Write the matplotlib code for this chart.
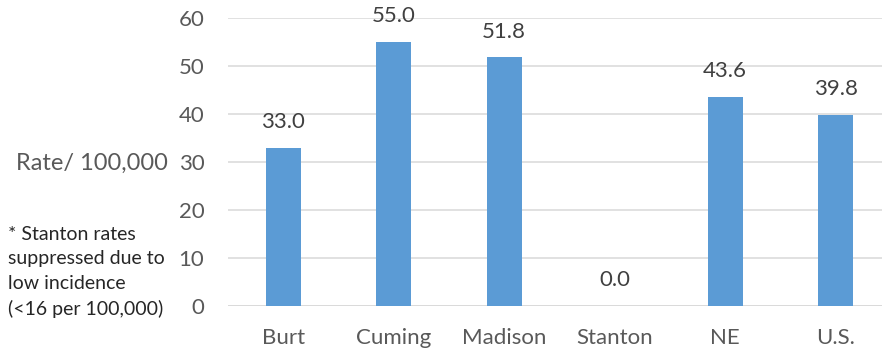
import matplotlib

matplotlib.use("Agg")
import matplotlib.pyplot as plt

categories = ["Burt", "Cuming", "Madison", "Stanton", "NE", "U.S."]
rates = [33.0, 55.0, 51.8, 0.0, 43.6, 39.8]
yticks = [0, 10, 20, 30, 40, 50, 60]

plt.rcParams["font.family"] = ["Lato", "DejaVu Sans"]

fig = plt.figure(figsize=(8.82, 3.52), dpi=100)
# axes span slightly past the right edge, like the source crop
ax = fig.add_axes([228 / 882, 1 - 306 / 352, (891 - 228) / 882, (306 - 18) / 352])

x = list(range(len(categories)))
ax.bar(x, rates, width=0.316, color="#5B9BD5", zorder=3)
for xi, v in zip(x, rates):
    ax.annotate(f"{v:.1f}", (xi, v), xytext=(0, 18.5), textcoords="offset points",
                ha="center", va="center", fontsize=16, color="#404040")

ax.set_xlim(-0.5, len(categories) - 0.5)
ax.set_ylim(0, 60)
ax.set_yticks(yticks)
ax.set_xticks(x)
ax.set_xticklabels(categories)
ax.yaxis.grid(True, color="#D9D9D9", linewidth=1.1, zorder=0)
for s in ax.spines.values():
    s.set_visible(False)
ax.tick_params(axis="both", length=0, labelsize=16, colors="#595959")
ax.tick_params(axis="y", pad=17)
ax.tick_params(axis="x", pad=16)
ax.axhline(0, color="#D9D9D9", linewidth=1.1, zorder=2)

fig.text(16 / 882, 1 - 163 / 352, "Rate/ 100,000", fontsize=17, color="#595959",
         ha="left", va="center")
fig.text(8 / 882, 1 - 272 / 352,
         "* Stanton rates\nsuppressed due to\nlow incidence\n(<16 per 100,000)",
         fontsize=14, color="#262626", ha="left", va="center", linespacing=1.55)

fig.savefig("out.png", dpi=100)
plt.close(fig)
